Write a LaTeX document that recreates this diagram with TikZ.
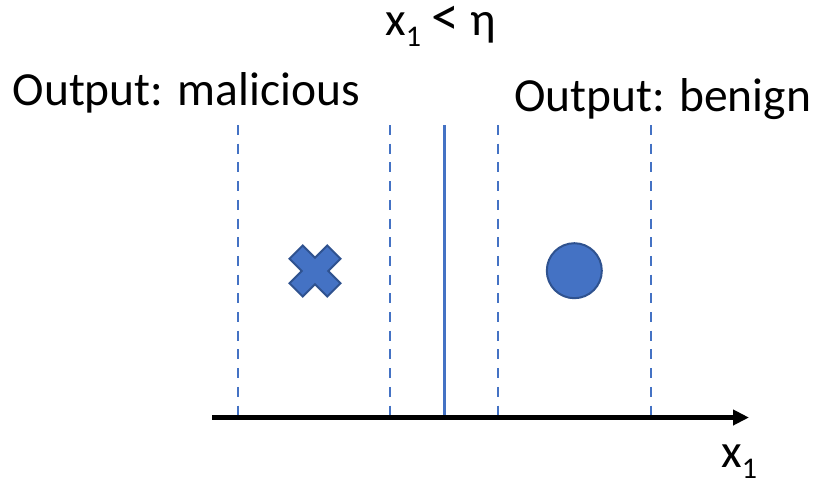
\documentclass[tikz,border=0pt]{standalone}
\usepackage{fontspec}
\setmainfont{Carlito}
\usetikzlibrary{arrows.meta}
\definecolor{accent}{HTML}{4472C4}
\definecolor{accentdark}{HTML}{2F528F}
\newcommand{\subone}{\raisebox{-11pt}{\fontsize{30}{30}\selectfont 1}}
\begin{document}
\begin{tikzpicture}[x=1pt,y=-1pt,
  lbl/.style={inner sep=0pt,anchor=base west,font=\fontsize{47.5}{50}\selectfont},
  margin/.style={draw=accent,line width=2.4pt,dash pattern=on 10pt off 8.7pt},
  bound/.style={draw=accent,line width=2.6pt},
  axisline/.style={draw=black,line width=5pt,-{Triangle[length=16pt,width=15pt]}},
  mark shape/.style={fill=accent,draw=accentdark,line width=2pt}]
  \useasboundingbox (0,0) rectangle (818,483);

  % labels
  \node[lbl] (rule)   at (385,35)  {x\subone{} {\fontsize{56}{56}\selectfont<} η};
  \node[lbl] (outmal) at (12.5,105) {Output: malicious};
  \node[lbl] (outben) at (514,111) {Output: benign};
  \node[lbl] (axlbl)  at (721,467) {x\subone};

  % margin lines and decision boundary
  \foreach \name/\xx in {ma/238,mb/390,mc/498,md/651}{
    \coordinate (\name top) at (\xx,125);
    \coordinate (\name bot) at (\xx,415);
    \draw[margin] (\name top) -- (\name bot);
  }
  \coordinate (bdtop) at (444.3,125);
  \coordinate (bdbot) at (444.3,416);
  \draw[bound] (bdtop) -- (bdbot);

  % feature axis
  \coordinate (axstart) at (212,417.5);
  \coordinate (axend) at (749,417.5);
  \draw[axisline] (axstart) -- (axend);

  % malicious sample (cross)
  \coordinate (crossc) at (315,271);
  \def\ca{25.5}\def\cs{6.65}
  \path[mark shape,shift={(crossc)}]
    (0,{-2*\cs}) -- ({\ca-2*\cs},-\ca) -- (\ca,{-\ca+2*\cs}) -- ({2*\cs},0)
    -- (\ca,{\ca-2*\cs}) -- ({\ca-2*\cs},\ca) -- (0,{2*\cs})
    -- ({-\ca+2*\cs},\ca) -- (-\ca,{\ca-2*\cs}) -- ({-2*\cs},0)
    -- (-\ca,{-\ca+2*\cs}) -- ({-\ca+2*\cs},-\ca) -- cycle;

  % benign sample (circle)
  \node[mark shape,circle,minimum size=55pt,inner sep=0pt] (benign) at (574.3,270.7) {};
\end{tikzpicture}
\end{document}
